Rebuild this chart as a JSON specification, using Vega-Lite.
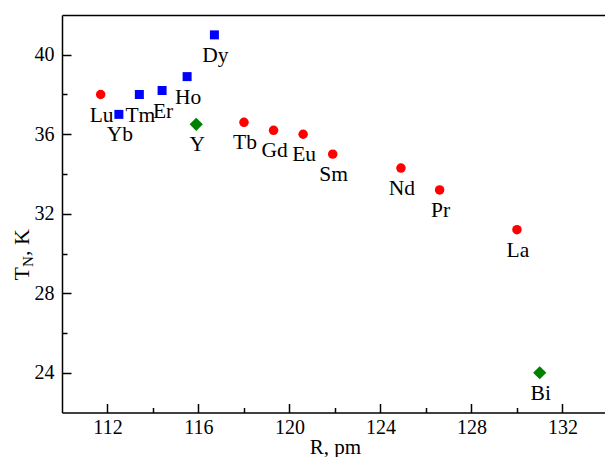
{
  "$schema": "https://vega.github.io/schema/vega-lite/v6.json",
  "usermeta": {"embedOptions": {"actions": false}},
  "width": 543,
  "height": 397.5,
  "autosize": {"type": "none"},
  "padding": {"left": 62, "top": 15, "right": 0, "bottom": 44.5},
  "background": "white",
  "config": {
    "font": "Liberation Serif",
    "view": {"stroke": null},
    "axis": {
      "grid": false,
      "domainColor": "black",
      "domainWidth": 1.5,
      "tickColor": "black",
      "tickWidth": 1.5,
      "labelColor": "black",
      "labelFont": "Liberation Serif",
      "labelFontSize": 20,
      "titleFont": "Liberation Serif",
      "titleColor": "black",
      "titleFontWeight": "normal"
    }
  },
  "data": {
    "values": [
      {"el": "Lu", "R": 111.7, "T": 38.0, "g": "circle"},
      {"el": "Yb", "R": 112.5, "T": 37.0, "g": "square"},
      {"el": "Tm", "R": 113.4, "T": 38.0, "g": "square"},
      {"el": "Er", "R": 114.4, "T": 38.2, "g": "square"},
      {"el": "Ho", "R": 115.5, "T": 38.9, "g": "square"},
      {"el": "Dy", "R": 116.7, "T": 41.0, "g": "square"},
      {"el": "Y", "R": 115.9, "T": 36.5, "g": "diamond"},
      {"el": "Tb", "R": 118.0, "T": 36.6, "g": "circle"},
      {"el": "Gd", "R": 119.3, "T": 36.2, "g": "circle"},
      {"el": "Eu", "R": 120.6, "T": 36.0, "g": "circle"},
      {"el": "Sm", "R": 121.9, "T": 35.0, "g": "circle"},
      {"el": "Nd", "R": 124.9, "T": 34.3, "g": "circle"},
      {"el": "Pr", "R": 126.6, "T": 33.2, "g": "circle"},
      {"el": "La", "R": 130.0, "T": 31.2, "g": "circle"},
      {"el": "Bi", "R": 131.0, "T": 24.0, "g": "diamond"}
    ]
  },
  "resolve": {"axis": {"x": "independent", "y": "independent"}},
  "layer": [
    {
      "mark": {"type": "point", "filled": true, "opacity": 1, "strokeWidth": 0},
      "encoding": {
        "x": {
          "field": "R", "type": "quantitative",
          "scale": {"domain": [110, 133.87], "nice": false, "zero": false},
          "axis": {
            "orient": "bottom",
            "values": [112, 116, 120, 124, 128, 132],
            "tickSize": -9,
            "labelPadding": 14,
            "title": "R, pm",
            "titleFontSize": 21,
            "titleBaseline": "alphabetic",
            "titleX": 273,
            "titleY": 41
          }
        },
        "y": {
          "field": "T", "type": "quantitative",
          "scale": {"domain": [22, 42], "nice": false, "zero": false},
          "axis": {
            "orient": "left",
            "values": [24, 28, 32, 36, 40],
            "tickSize": -9,
            "labelPadding": 17,
            "title": "T\u00a0\u00a0, K",
            "titleFontSize": 22,
            "titleAngle": -90,
            "titleAlign": "left",
            "titleBaseline": "alphabetic",
            "titleX": -34,
            "titleY": 265
          }
        },
        "color": {
          "field": "g", "type": "nominal",
          "scale": {"domain": ["circle", "square", "diamond"], "range": ["#ff0000", "#0000ff", "#008000"]},
          "legend": null
        },
        "shape": {
          "field": "g", "type": "nominal",
          "scale": {"domain": ["circle", "square", "diamond"], "range": ["circle", "square", "diamond"]},
          "legend": null
        },
        "size": {
          "field": "g", "type": "ordinal",
          "scale": {"type": "ordinal", "domain": ["circle", "square", "diamond"], "range": [90, 81, 175]},
          "legend": null
        }
      }
    },
    {
      "mark": {"type": "text", "font": "Liberation Serif", "fontSize": 21.5, "align": "center", "baseline": "alphabetic", "dy": 27, "dx": 1, "color": "black"},
      "encoding": {
        "x": {
          "field": "R", "type": "quantitative",
          "axis": {
            "orient": "bottom",
            "values": [114, 118, 122, 126, 130],
            "tickSize": -5,
            "labels": false,
            "domain": false,
            "title": null
          }
        },
        "y": {
          "field": "T", "type": "quantitative",
          "axis": {
            "orient": "left",
            "values": [26, 30, 34, 38],
            "tickSize": -5,
            "labels": false,
            "domain": false,
            "title": "N",
            "titleFontSize": 15,
            "titleAngle": -90,
            "titleAlign": "left",
            "titleBaseline": "alphabetic",
            "titleX": -30,
            "titleY": 251.5
          }
        },
        "text": {"field": "el", "type": "nominal"}
      }
    },
    {
      "mark": {"type": "point", "opacity": 0},
      "encoding": {
        "x": {
          "field": "R", "type": "quantitative",
          "axis": {
            "orient": "top",
            "ticks": false,
            "labels": false,
            "title": null
          }
        },
        "y": {"field": "T", "type": "quantitative", "axis": null}
      }
    }
  ]
}
